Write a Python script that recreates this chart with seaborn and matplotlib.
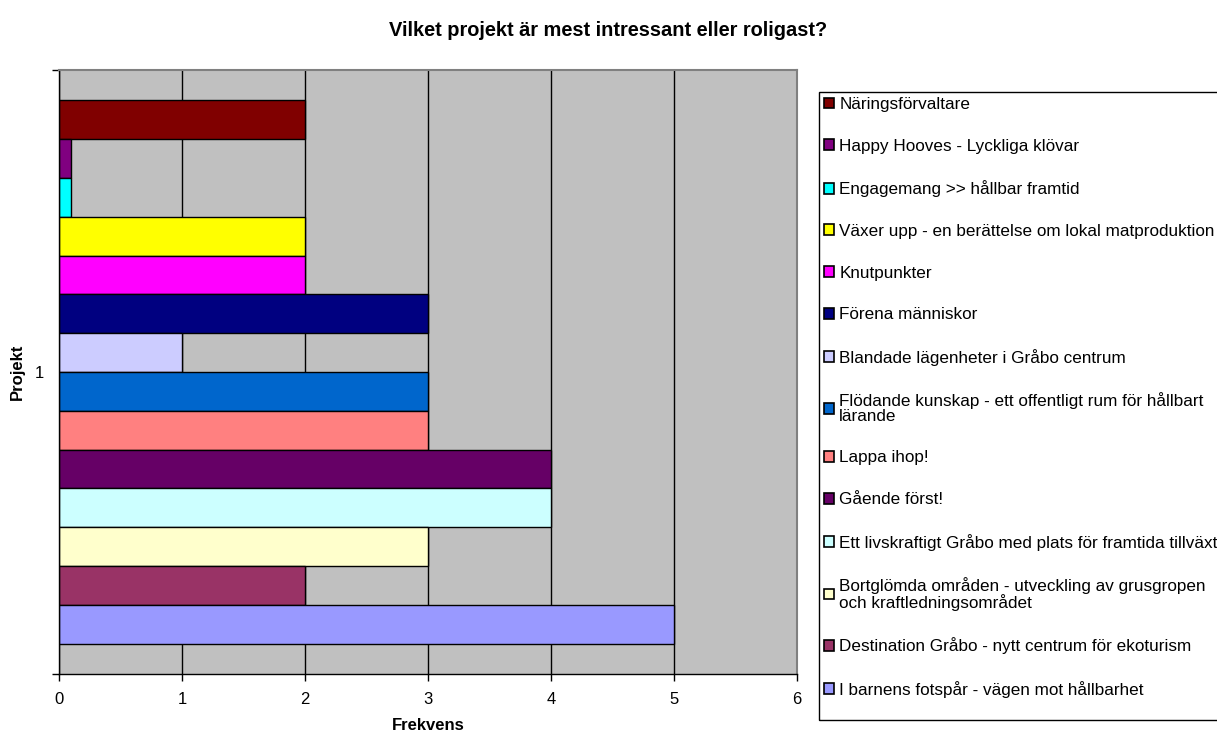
import matplotlib
matplotlib.use("Agg")
import matplotlib.pyplot as plt
from matplotlib.patches import Rectangle
import seaborn as sns
import pandas as pd

projects = [
    "Näringsförvaltare",
    "Happy Hooves - Lyckliga klövar",
    "Engagemang >> hållbar framtid",
    "Växer upp - en berättelse om lokal matproduktion",
    "Knutpunkter",
    "Förena människor",
    "Blandade lägenheter i Gråbo centrum",
    "Flödande kunskap - ett offentligt rum för hållbart\nlärande",
    "Lappa ihop!",
    "Gående först!",
    "Ett livskraftigt Gråbo med plats för framtida tillväxt",
    "Bortglömda områden - utveckling av grusgropen\noch kraftledningsområdet",
    "Destination Gråbo - nytt centrum för ekoturism",
    "I barnens fotspår - vägen mot hållbarhet",
]
values = [2, 0.1, 0.1, 2, 2, 3, 1, 3, 3, 4, 4, 3, 2, 5]
colors = [
    "#800000", "#800080", "#00FFFF", "#FFFF00", "#FF00FF", "#000080",
    "#CCCCFF", "#0066CC", "#FF8080", "#660066", "#CCFFFF", "#FFFFCC",
    "#993366", "#9999FF",
]
category = ["1"] * len(projects)
x_ticks = [0, 1, 2, 3, 4, 5, 6]

sns.set_theme(style="white")
plt.rcParams["font.family"] = ["Liberation Sans", "DejaVu Sans"]
plt.rcParams.update({"text.color": "black", "axes.labelcolor": "black",
                     "xtick.color": "black", "ytick.color": "black"})

W, H = 1217, 735
df = pd.DataFrame({"Projekt": category, "Frekvens": values, "name": projects})

fig = plt.figure(figsize=(W / 100, H / 100), dpi=100)
ax = fig.add_axes([59 / W, 1 - 674 / H, (797 - 59) / W, (674 - 70) / H])
ax.set_facecolor("#C0C0C0")

sns.barplot(
    data=df, x="Frekvens", y="Projekt", hue="name", hue_order=projects,
    orient="h", palette=colors, width=0.9, edgecolor="black", linewidth=1,
    saturation=1, ax=ax, legend=True, errorbar=None,
)

ax.set_xlim(0, 6)
ax.set_ylim(0.5, -0.5)
ax.set_xticks(x_ticks)
ax.set_xticklabels([str(t) for t in x_ticks], fontsize=12)
ax.set_yticks([0])
ax.set_yticklabels(["1"], fontsize=12)
ax.set_yticks([-0.5, 0.5], minor=True)
ax.tick_params(axis="y", which="major", length=0, pad=11)
ax.tick_params(axis="y", which="minor", length=5, width=1, color="black", left=True)
ax.tick_params(axis="x", which="major", length=5, width=1, color="black", bottom=True, pad=8)

ax.grid(axis="x", color="black", linewidth=1)
ax.grid(axis="y", visible=False)
ax.set_axisbelow(True)

for s in ["left", "bottom"]:
    ax.spines[s].set_color("black")
    ax.spines[s].set_linewidth(1)
for s in ["top", "right"]:
    ax.spines[s].set_color("#808080")
    ax.spines[s].set_linewidth(1.5)
    ax.spines[s].set_visible(True)

ax.set_xlabel("Frekvens", fontsize=12, fontweight="bold")
ax.xaxis.set_label_coords(0.5, (674 - 726) / (674 - 70))
ax.xaxis.label.set_va("center")
ax.set_ylabel("Projekt", fontsize=12, fontweight="bold")
ax.yaxis.set_label_coords((17 - 59) / (797 - 59), 0.5)
ax.yaxis.label.set_va("center")

handles, labels = ax.get_legend_handles_labels()
if ax.get_legend() is not None:
    ax.get_legend().remove()
leg = fig.legend(
    handles, labels, loc="upper left",
    bbox_to_anchor=(824 / W, 1 - 97 / H),
    fontsize=12.3, frameon=False,
    handlelength=0.6, handleheight=0.6, handletextpad=0.3,
    labelspacing=1.56, borderpad=0, borderaxespad=0,
)
for t in leg.get_texts():
    t.set_linespacing(0.95)
for h in leg.legend_handles:
    h.set_linewidth(1.2)

fig.patches.append(Rectangle((819 / W, 1 - 720 / H), (W + 20 - 819) / W, (720 - 92) / H,
                             transform=fig.transFigure, fill=False, edgecolor="black",
                             linewidth=1, figure=fig))

fig.text(0.5, 1 - 30 / H, "Vilket projekt är mest intressant eller roligast?",
         ha="center", va="center", fontsize=14.4, fontweight="bold")

fig.savefig("out.png", dpi=100, facecolor="white")
